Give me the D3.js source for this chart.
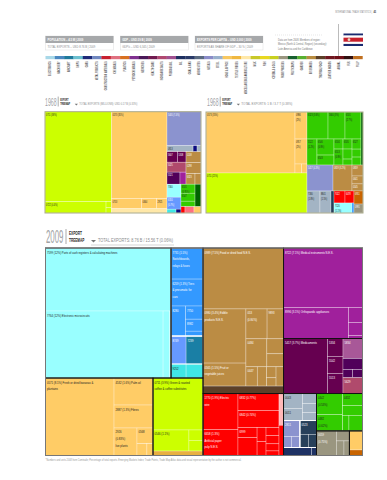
<!DOCTYPE html>
<html><head><meta charset="utf-8"><script src="https://cdn.jsdelivr.net/npm/d3@7/dist/d3.min.js"></script>
<style>html,body{margin:0;padding:0;background:#fff}svg{display:block}text{font-family:"Liberation Sans",sans-serif}</style></head><body><div id="c"></div>
<script>
// ---------- data ----------
const stats = [
  ["POPULATION – 4.5 M | 2009", "TOTAL EXPORTS – USD 8.76 B | 2009"],
  ["GDP – USD 29 B | 2009", "GDP/c – USD 6,345 | 2009"],
  ["EXPORTS PER CAPITA – USD 2,000 | 2009", "EXPORTS AS SHARE OF GDP – 30 % | 2009"]
];
const noteLines = ["Data are from 2008. Members of region:", "Mexico (North & Central, Region) (secondary):", "Latin America and the Caribbean"];
const communityLabels = ["ELECTRONICS","MACHINERY","AIRCRAFT","SHIPS","CARS","METAL PRODUCTS","CONSTRUCTION MATERIALS","CHEMICALS","PLASTICS","PETROCHEMICALS","MEDICINES","HEALTH CARE","INORGANIC SALTS","PRECIOUS OIL","OIL","COAL & GAS","MINING SITES","METALS","STEEL","HOME & OFFICE","TEXTILE FIBRES","MISCELLANEOUS AGRICULTURE","MILK","FISH","CEREALS & OILS","FOOD PROCESS","FRUIT CROPS","GARDEN","BEVERAGES","TROPICAL FOOD","LEATHER GOODS","ANIMAL","FUR","PULP"];
const communityColors = ["#a8d8e8","#4a88c0","#1f7a9c","#6cc0d0","#1e2a78","#7088c0","#c82030","#e07080","#d87020","#803090","#4a1858","#701a50","#b04870","#a05090","#1e2f60","#2a3a68","#5a6a80","#8a8cc8","#98b0cc","#f8c860","#f0b840","#ffe8a8","#c8c828","#e8d820","#c8d020","#9a9680","#186030","#58b030","#b88c40","#5c4028","#701820","#701018","#301010","#c07020"];
const pal = {cyan:"#99ffff",cyan2:"#40e6e6",blue:"#3399ff",peri:"#6699ff",teal:"#1a7fa5",lime:"#ccff00",orange:"#ffcc66",pale:"#ffe8a8",gold:"#e8b040",brown:"#bb8c44",dbrown:"#5c4028",purple:"#a0209c",plum:"#660050",dplum:"#50005a",mauve:"#a85898",rose:"#b04a6c",red:"#ff0000",pink:"#ffb8b8",salmon:"#ff7080",green:"#33cc00",dgreen:"#006400",tan:"#9a9680",ochre:"#c86400",slate:"#a3b4c4",lav:"#8b93cf",navy:"#27405a",dnavy:"#1e3264",xnavy:"#0a0a80"};

const L=(v,t="",c)=>({v,t,c});
const D=(...children)=>({d:"h",children});
const S=(...children)=>({d:"v",children});
const C=(c,n,frame)=>Object.assign(n,{c,frame});

// 2009 treemap (values: per-mille of total exports)
const cyan09 = S(L(120.2,"7599 (12%) Parts of cash registers & calculating machines"),
  D(L(119.7,"7764 (12%) Electronic microcircuits"),L(6.6),L(1.5)));
const blue09 = S(L(15.1,"7731 (1.5%)|Switchboards,|relays & fuses"),L(13.1,"6259 (1.3%) Tires|& pneumatic for|cars"),
  D(L(6.6,"8280"),S(L(3.5,"7750"),L(3.2,"8982"),L(1.3))));
const machine09 = S(C(pal.blue,blue09,"w"),
  C(pal.peri,D(L(6.4,"8749"),L(7.2,"7239",pal.teal)),"w"),
  D(L(3.2,"9252",pal.cyan2),L(3.6,"",pal.cyan2)));
const orange09 = D(L(80.7,"0571 (8.1%) Fresh or dried bananas &|plantains"),
  S(L(16.0,"4532 (1.6%) Palm oil"),L(13.6,"2887 (1.3%) Fibres"),
    D(L(9.6,"2926|(0.83%)|live plants"),S(L(3.8,"0568"),D(L(1.8),L(1.1))))));
const lime09 = S(L(39.5,"0711 (3.9%) Green & roasted|coffee & coffee substitutes"),
  D(L(11.5,"0546 (1.1%)"),S(L(2.2),L(2.3))),L(3.4,"",pal.gold));
const brown09 = S(L(74.6,"0989 (7.5%) Food or dried food N.E.S."),
  D(S(L(35.3,"0980 (3.4%) Edible|products N.E.S."),L(15.0,"0565 (1.5%) Fruit or|vegetable juices")),
    S(D(L(9.6,"053|(0.84%)"),L(7.5,"9893")),
      D(L(8.9,"0484"),S(L(3.8),L(3.3))),
      D(L(3.3,"0447"),L(2.7),S(L(1.6),L(1.2)),L(2.2)))),
  L(9.2,"",pal.dbrown));
const red09 = D(S(L(19.1,"1770 (1.9%) Electric|wire"),L(13.8,"6658 (1.3%)|Artificial paper|pulp N.E.S.")),
  S(L(10.6,"6832 (0.77%)"),L(10.6,"6842 (0.74%)"),
    D(S(L(2.9,"6999"),L(5.2)),S(L(1.9),L(1.9)),S(L(1.6),L(1.6),L(1.4),L(0.9)))),
  S(L(2.2,"",pal.pink),L(2.1)));
const purple09 = S(L(71.4,"8722 (7.1%) Medical instruments N.E.S."),
  D(L(30.6,"8996 (3.1%) Orthopaedic appliances"),S(L(3.2),L(2.8),L(0.6))));
const plum09 = D(L(36.8,"5417 (3.7%) Medicaments"),
  S(L(4.2,"5334"),L(4.0,"5542"),L(4.7,"5513")),
  S(L(5.9,"5834",pal.mauve),C(pal.dplum,S(L(3.3),D(L(1.2),L(1.2)))),L(4.7,"5629",pal.rose)));
const gray09 = S(C(pal.slate,D(S(L(4.3,"0043"),L(3.5,"0011")),S(L(2.1),L(1.9),L(1.7)))),
  D(C(pal.lav,S(L(4.0,"2811"),D(L(1.3),L(1.4))),"w"),C(pal.navy,S(L(3.5,"0523"),D(L(1.7),L(1.6))),"w")),
  C(pal.dnavy,D(L(3.4),L(0.6))));
const green09 = D(S(L(8.3,"0442|(0.53%)"),L(6.5,"0482|(0.62%)")),
  S(L(3.6,"0432"),L(3.0),D(L(1.5),L(3.2))));
const tan09 = D(L(7.4,"0059|(0.75%)"),S(L(2.0),D(L(1.7),L(1.2))));
const orange2_09 = S(L(3.8,"",pal.orange),L(1.1,"",pal.ochre));

const tree2009 = D(
  S(D(C(pal.cyan,cyan09,"k"),C(pal.blue,machine09,"k")),D(C(pal.orange,orange09,"k"),C(pal.lime,lime09,"k"))),
  S(C(pal.brown,brown09,"k"),C(pal.red,red09,"k")),
  S(C(pal.purple,purple09,"k"),C(pal.plum,plum09,"k"),
    D(C(pal.slate,gray09,"k"),S(C(pal.green,green09,"k"),D(C(pal.tan,tan09,"k"),C(pal.orange,orange2_09,"k")))))
);

// 1968 exports
const lime68a = S(L(378.8,"0711 (38%)"),D(L(43.6,"0722 (4.4%)"),S(L(2.1),L(1.8))));
const orange68a = S(L(305.6,"0573 (35%)"),D(L(19.0,"0753"),L(9.5,"0364"),L(6.6,"2925")),L(15.1,"",pal.pale));
const rest68a = S(L(73.2,"5405 (7.4%)",pal.lav),
  D(L(9.9,"0813",pal.slate),L(1.5,"",pal.xnavy),L(1.5,"",pal.slate)),
  D(S(C(pal.plum,D(L(7.0,"5607"),L(5.6,"5308"))),L(12.0,"5025",pal.rose),D(L(9.9,"5521",pal.dplum),L(4.6,"",pal.purple))),
    C(pal.brown,S(L(10.4,"0208"),L(10.4,"0298"),D(L(6.0,"6323"),L(4.0))))),
  D(S(L(11.5,"7360",pal.cyan),L(10.6,"6310|(0.7%)",pal.peri),D(L(2.2,"",pal.cyan2),L(1.2,"",pal.xnavy))),
    S(D(C(pal.green,S(L(8.0,"6531|(0.95%)"),L(7.1,"6547"),L(4.9))),L(8.5,"",pal.dgreen)),
      D(L(1.6,"",pal.red),L(3.6,"",pal.salmon),L(2.8,"",pal.orange))))
);
const tree1968a = D(C(pal.lime,lime68a),C(pal.orange,orange68a),rest68a);

// 1968 imports
const orange68b = D(L(342,"0573 (35%)"),S(L(20.4,"0986|(2%)"),L(18.9,"0917|(2%)"),D(L(3.7),L(3.1))));
const green68b = D(S(
  D(L(35.8,"6323 (3.6%)"),L(28.9,"5660 (3%)"),L(27.2,"6531|(2.7%)")),
  D(L(16.4,"5122|(1.2%)"),S(L(17.2,"6546|(0.8%)"),L(10.7,"6543")),S(L(5.7,"6534"),L(9.1,"6513|(0.8%)")),S(L(5.7,"6535"),L(5.7),L(3.4)),S(L(5.7,"6527"),L(4.5),L(4.5)))),
  L(6.7,"",pal.dgreen));
const tree1968b = D(
  S(C(pal.orange,orange68b),L(254.7,"0711 (25%)",pal.lime)),
  S(C(pal.green,green68b),
    D(L(42.6,"5417 (4.3%)",pal.lav),C(pal.brown,D(L(31.1,"0819 (3.2%)"),S(L(7.6,"0859"),L(5.5,"0641"),L(4.9,"0545"))))),
    D(C(pal.slate,D(L(18.0,"7180|(1.8%)"),L(15.3,"8841|(1.5%)"))),L(4.2,"",pal.navy),
      S(C(pal.red,D(L(8.3,"7022"),L(6.8,"6478"))),D(L(11.3,"7120|(1.1%)",pal.cyan),L(1.3,"",pal.blue))),
      S(L(7.4,"6951",pal.ochre),L(5.1,"0991",pal.tan))))
);

// ---------- drawing ----------
const W=387,H=480;
const svg=d3.select("#c").append("svg").attr("width",W).attr("height",H);
const gray="#8a8c8e";

// running head
svg.append("text").attr("x",372).attr("y",13).attr("text-anchor","end").attr("font-size",3).attr("fill",gray).text("INTERNATIONAL TRADE STATISTICS |");
svg.append("text").attr("x",373.5).attr("y",13).attr("font-size",3.4).attr("font-weight","bold").attr("fill","#444").text("45");

// stat boxes
const statX=d3.scaleLinear().domain([0,2]).range([45.5,195]);
stats.forEach((s,i)=>{
  const g=svg.append("g").attr("transform",`translate(${statX(i)},36)`);
  g.append("rect").attr("width",68).attr("height",14).attr("fill","#fff").attr("stroke","#ddd").attr("stroke-width",.5);
  g.append("rect").attr("width",68).attr("height",7).attr("fill","#a6a8aa");
  g.append("text").attr("x",2).attr("y",5).attr("font-size",4).attr("font-weight","bold").attr("fill","#fff").text(s[0]);
  g.append("text").attr("x",2).attr("y",12).attr("font-size",4).attr("fill",gray).text(s[1]);
});
svg.append("line").attr("x1",275).attr("x2",323).attr("y1",35).attr("y2",35).attr("stroke","#ccc").attr("stroke-width",.5).attr("stroke-dasharray","1 1");
noteLines.forEach((t,i)=>svg.append("text").attr("x",278).attr("y",40.5+i*4.6).attr("font-size",3.5).attr("fill","#777").text(t));
svg.append("line").attr("x1",338.5).attr("x2",338.5).attr("y1",24).attr("y2",56).attr("stroke","#aaa").attr("stroke-width",.8);

// flag
const flagBands=[["#1a2a70",1],["#fff",1],["#c8202c",2],["#fff",1],["#1a2a70",1]];
const flagY=d3.scaleLinear().domain([0,6]).range([33.5,46]);
let fa=0; flagBands.forEach(b=>{svg.append("rect").attr("x",343.5).attr("width",19.5).attr("y",flagY(fa)).attr("height",flagY(fa+b[1])-flagY(fa)).attr("fill",b[0]);fa+=b[1];});
svg.append("circle").attr("cx",349).attr("cy",39.7).attr("r",1.4).attr("fill","#e8d8c0");

// community strip
const stripX=d3.scaleBand().domain(d3.range(communityColors.length)).range([45.5,362.5]);
svg.selectAll("rect.s").data(communityColors).join("rect").attr("class","s")
  .attr("x",(d,i)=>stripX(i)).attr("y",56).attr("width",stripX.bandwidth()+.2).attr("height",3.2).attr("fill",d=>d);
svg.selectAll("text.s").data(communityLabels).join("text").attr("class","s")
  .attr("transform",(d,i)=>`translate(${stripX(i)+stripX.bandwidth()/2+1},61.5) rotate(-90)`)
  .attr("text-anchor","end").attr("font-size",3).attr("font-weight","bold").attr("fill","#555").text(d=>d);

function header(x,y,year,total,totalLen,big){
  const k=big?1:.66, g=svg.append("g").attr("transform",`translate(${x},${y})`);
  g.append("text").attr("y",0).attr("font-size",17.5*k).attr("fill","#a0a2a4").attr("textLength",17.5*k).attr("lengthAdjust","spacingAndGlyphs").text(year);
  g.append("line").attr("x1",20*k).attr("x2",20*k).attr("y1",-13.5*k).attr("y2",1.5*k).attr("stroke","#555").attr("stroke-width",.5);
  g.append("text").attr("x",23*k).attr("y",-7.2*k).attr("font-size",4.6*k).attr("font-weight","bold").attr("fill","#222").text("EXPORT");
  g.append("text").attr("x",23*k).attr("y",-1*k).attr("font-size",4.6*k).attr("font-weight","bold").attr("fill","#222").text("TREEMAP");
  g.append("path").attr("d",`M${45*k},${-2.5*k}h${5*k}l${-2.5*k},${2.5*k}z`).attr("fill","#777");
  g.append("text").attr("x",52*k).attr("y",-1*k).attr("font-size",big?5:3.9).attr("fill",gray).attr("textLength",totalLen).attr("lengthAdjust","spacingAndGlyphs").text(total);
  if(big) g.append("line").attr("x1",45).attr("x2",128).attr("y1",2.5).attr("y2",2.5).attr("stroke","#aaa").attr("stroke-width",.5);
}
header(46,242.5,"2009","TOTAL EXPORTS: 8.76 B / 15.56 T (0.06%)",75,true);
header(45,105.5,"1968","TOTAL EXPORTS (MILLIONS): USD 0.17 B (0.33%)",58,false);
header(207,105.5,"1968","TOTAL EXPORTS: 1 B / 3.7 T (0.38%)",51,false);

function treemap(tree,x,y,w,h,opt){
  const root=d3.hierarchy(tree).sum(d=>d.v||0);
  d3.treemap().size([w,h]).tile((n,a,b,c,e)=>(n.data.d==="h"?d3.treemapDice:d3.treemapSlice)(n,a,b,c,e))(root);
  const fillOf=n=>{for(let p=n;p;p=p.parent) if(p.data.c) return p.data.c; return "#ccc";};
  const g=svg.append("g").attr("transform",`translate(${x},${y})`);
  const leaves=root.leaves();
  g.selectAll("rect.l").data(leaves).join("rect").attr("class","l")
    .attr("x",d=>d.x0).attr("y",d=>d.y0).attr("width",d=>d.x1-d.x0).attr("height",d=>d.y1-d.y0)
    .attr("fill",fillOf).attr("stroke","#fff").attr("stroke-opacity",.55).attr("stroke-width",.5);
  const frames=root.descendants().filter(d=>d.data.frame);
  g.selectAll("rect.w").data(frames.filter(d=>d.data.frame==="w")).join("rect").attr("class","w")
    .attr("x",d=>d.x0).attr("y",d=>d.y0).attr("width",d=>d.x1-d.x0).attr("height",d=>d.y1-d.y0)
    .attr("fill","none").attr("stroke","#fff").attr("stroke-width",1);
  g.selectAll("rect.k").data(frames.filter(d=>d.data.frame==="k")).join("rect").attr("class","k")
    .attr("x",d=>d.x0).attr("y",d=>d.y0).attr("width",d=>d.x1-d.x0).attr("height",d=>d.y1-d.y0)
    .attr("fill","none").attr("stroke","#111").attr("stroke-width",.9);
  g.append("rect").attr("width",w).attr("height",h).attr("fill","none").attr("stroke",opt.edge).attr("stroke-width",1);
  const lab=g.selectAll("text.t").data(leaves.filter(d=>d.data.t)).join("text").attr("class","t")
    .attr("font-size",opt.fs).attr("fill",d=>d3.lab(fillOf(d)).l>72?"#222":"#fff");
  lab.each(function(d){
    d.data.t.split("|").forEach((s,i)=>d3.select(this).append("tspan").attr("x",d.x0+opt.pad).attr("y",d.y0+opt.top+i*opt.lh).text(s));
  });
}
treemap(tree1968a,45,111.7,156,101.3,{fs:3.1,lh:5,pad:1,top:4,edge:"#a9a98a"});
treemap(tree1968b,206,112,157,101,{fs:3.1,lh:5,pad:1,top:4,edge:"#a9a98a"});
treemap(tree2009,45.5,248,317,207.5,{fs:4,lh:6.7,pad:1.5,top:5.5,edge:"#777"});

svg.append("text").attr("x",45.5).attr("y",461).attr("font-size",3).attr("fill","#999").attr("textLength",196).attr("lengthAdjust","spacingAndGlyphs")
  .text("*Numbers and units 2008 from Comtrade; Percentage of total exports. Emerging Markets Index; Trade Points, Trade Map Atlas data and visual representation by the author is not commercial.");

// the installed sans is wider than the reference's condensed face: condense all free text
const condense=.68;
svg.selectAll("text").each(function(){
  if(this.getAttribute("textLength")) return;
  const spans=this.querySelectorAll("tspan");
  (spans.length?[...spans]:[this]).forEach(e=>{
    e.setAttribute("lengthAdjust","spacingAndGlyphs");
    e.setAttribute("textLength",e.getComputedTextLength()*condense);
  });
});
</script></body></html>
